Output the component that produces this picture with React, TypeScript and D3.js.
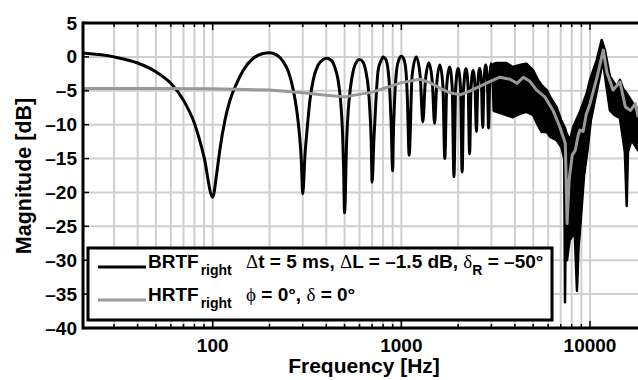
import React from 'react';
import * as d3 from 'd3';

// ---------- data ----------
const yTickValues = [5, 0, -5, -10, -15, -20, -25, -30, -35, -40];
const xTickValues = [100, 1000, 10000];
const xTickLabels = ['100', '1000', '10000'];

// BRTF (comb-filtered) – resolved lobes, frequency in Hz and magnitude in dB
const brtfFreq = [
  20, 30, 40, 50, 60, 70, 80, 90, 100, 105, 109, 116, 123.5, 134, 145, 164, 185, 200, 218, 236.5, 252, 267.5, 279, 288, 295, 300,
  308.7, 317.5, 327.6, 341, 362, 385, 400, 425, 443.5, 462, 476, 488, 494, 500,
  513, 523, 538, 560, 583, 600, 624, 649, 667, 681, 692, 700,
  715, 735, 753, 785, 800, 828, 851, 868, 882, 900,
  906, 921, 940, 968, 1000, 1033, 1060, 1077, 1100,
  1140, 1200, 1260, 1300, 1340, 1400, 1460, 1500, 1540, 1600, 1660, 1700, 1740, 1800, 1860, 1900,
  1940, 2000, 2060, 2100, 2140, 2200, 2260, 2300, 2340, 2400, 2460, 2500, 2540, 2600, 2660, 2700,
  2740, 2800, 2860, 2900, 2940, 3000, 3060, 3100,
];
const brtfDb = [
  0.6, 0.0, -0.9, -2.2, -3.9, -6.4, -9.8, -14.8, -20.7, -17.2, -13.8, -9.4, -6.4, -3.9, -2.0, -0.2, 0.5, 0.6, 0.3, -0.7, -2.2, -4.9, -7.9, -11.3, -15.3, -20.2,
  -14.3, -10.3, -6.4, -3.4, -1.2, -0.4, -0.2, -0.5, -1.5, -3.4, -6.4, -11.3, -16.3, -23.0,
  -12.3, -7.9, -4.4, -1.7, -0.6, -0.4, -0.7, -2.2, -4.4, -7.9, -12.3, -18.5,
  -12.3, -5.9, -2.0, -0.4, 0.0, -0.4, -2.0, -4.9, -9.4, -16.8,
  -12.3, -6.4, -2.4, -0.5, 0.1, -0.4, -2.4, -6.4, -14.5,
  -2.8, 0.0, -3.0, -9.6, -3.6, -0.9, -3.8, -9.8, -4.0, -1.2, -4.2, -15.0, -4.3, -1.5, -4.5, -17.7,
  -4.6, -1.7, -4.6, -17.0, -4.6, -1.7, -4.6, -14.3, -4.8, -2.0, -4.8, -11.0, -4.4, -1.7, -4.2, -10.4,
  -3.9, -1.2, -3.8, -10.5, -3.6, -1.0, -3.6, -8.0,
];

// BRTF – dense region drawn as a band: upper and lower envelopes
const bandUpperFreq = [3100, 3200, 3600, 3900, 4250, 4600, 5000, 5300, 5550, 5900, 6150, 6650, 7050, 7400, 7520, 7830, 8150, 8850, 9600, 10000, 10850, 11530, 12000, 12750, 13850, 14400, 15000, 15650, 16950, 18000];
const bandUpperDb = [-1.0, -0.9, -0.9, -1.5, -1.2, -1.0, -2.0, -3.4, -4.2, -4.9, -5.9, -7.4, -9.4, -10.6, -11.3, -12.3, -10.3, -8.1, -5.4, -3.4, -0.5, 2.5, 1.0, -2.9, -4.4, -3.4, -4.7, -5.4, -6.9, -7.9];
const bandLowerFreq = [3100, 3200, 3600, 3900, 4250, 4600, 5000, 5300, 5550, 5900, 6150, 6650, 7050, 7300, 7370, 7450, 7550, 7800, 8300, 8530, 8700, 8850, 9300, 9700, 10100, 10750, 11300, 11700, 12200, 12750, 13500, 14400, 15300, 15650, 15900, 16600, 18000];
const bandLowerDb = [-8.0, -8.1, -8.6, -8.9, -8.4, -8.1, -8.6, -10.1, -11.1, -11.1, -11.8, -12.3, -13.3, -15.0, -36.2, -22.0, -30.0, -27.0, -26.0, -34.5, -28.0, -25.6, -17.5, -13.8, -9.4, -5.7, -2.7, -0.5, -4.2, -7.9, -8.6, -9.0, -14.0, -22.0, -14.0, -12.3, -13.8];

// HRTF
const hrtfFreq = [20, 50, 100, 200, 300, 400, 500, 700, 800, 1000, 1256, 1420, 1600, 1810, 2050, 2320, 2620, 2960, 3330, 3770, 4100, 4430, 4800, 5210, 5760, 6370, 6950, 7400, 7560, 7760, 8050, 8350, 8670, 8850, 9200, 9550, 10000, 10900, 11750, 12300, 13250, 14420, 15400, 16400, 17400, 18000];
const hrtfDb = [-4.65, -4.65, -4.7, -4.9, -5.3, -5.65, -5.9, -5.2, -4.7, -3.8, -3.3, -3.8, -4.6, -5.3, -5.6, -5.0, -4.3, -3.6, -3.0, -3.3, -3.9, -3.0, -3.6, -4.9, -5.9, -7.9, -10.5, -12.8, -24.6, -18.0, -14.5, -13.8, -11.5, -10.8, -11.0, -8.5, -6.9, -3.0, 1.0, -2.3, -4.9, -3.7, -7.4, -7.9, -6.9, -8.9];

// ---------- layout ----------
const W = 638, H = 380;
const L = 83, R = 638, T = 23, B = 328;
const FONT = "'Liberation Sans', Arial, Helvetica, sans-serif";
const SERIF = "'Liberation Serif', 'Times New Roman', serif";

export default function App() {
  const x = d3.scaleLog().domain([100, 10000]).range([212.7, 590]);
  const y = d3.scaleLinear().domain([-40, 5]).range([B, T]);
  const gridFreqs = d3.scaleLog().domain([20, 18000]).ticks().filter((f) => x(f) > L + 2 && x(f) < R);

  const line = d3.line<[number, number]>().x((d) => x(d[0])).y((d) => y(d[1])).curve(d3.curveMonotoneX);
  const lineLin = d3.line<[number, number]>().x((d) => x(d[0])).y((d) => y(d[1]));

  const brtf: [number, number][] = brtfFreq.map((f, i) => [f, brtfDb[i]]);
  const hrtf: [number, number][] = hrtfFreq.map((f, i) => [f, hrtfDb[i]]);
  const band: [number, number][] = [
    ...bandUpperFreq.map((f, i) => [f, bandUpperDb[i]] as [number, number]),
    ...bandLowerFreq.map((f, i) => [f, bandLowerDb[i]] as [number, number]).reverse(),
  ];

  const gridColor = '#cfcfcf';
  const grayLine = '#999999';

  return (
    <svg width={W} height={H} style={{ position: 'absolute', left: 0, top: 0, background: '#fff' }} fontFamily={FONT}>
      <defs>
        <clipPath id="plot">
          <rect x={L} y={T} width={R - L} height={B - T} />
        </clipPath>
      </defs>
      <rect x={0} y={0} width={W} height={H} fill="#fff" />
      {/* grid */}
      <g stroke={gridColor} strokeWidth={2}>
        {gridFreqs.map((f) => (
          <line key={'gx' + f} x1={x(f)} x2={x(f)} y1={T} y2={B} />
        ))}
        {yTickValues.filter((v) => v !== 5 && v !== -40).map((v) => (
          <line key={'gy' + v} x1={L} x2={R} y1={y(v)} y2={y(v)} />
        ))}
      </g>
      {/* data */}
      <g clipPath="url(#plot)">
        <path d={line(brtf) || ''} fill="none" stroke="#000" strokeWidth={3} strokeLinejoin="round" />
        <path d={(lineLin(band) || '') + 'Z'} fill="#000" stroke="#000" strokeWidth={2.5} strokeLinejoin="round" />
        <path d={lineLin(hrtf) || ''} fill="none" stroke={grayLine} strokeWidth={3} strokeLinejoin="round" />
      </g>
      {/* ticks */}
      <g stroke="#000" strokeWidth={1.5}>
        {gridFreqs.map((f) => {
          const major = xTickValues.includes(f);
          const len = major ? 7 : 4;
          return (
            <g key={'t' + f}>
              <line x1={x(f)} x2={x(f)} y1={B} y2={B - len} />
              <line x1={x(f)} x2={x(f)} y1={T} y2={T + len} />
            </g>
          );
        })}
        {yTickValues.map((v) => (
          <line key={'ty' + v} x1={L} x2={L + 6} y1={y(v)} y2={y(v)} />
        ))}
      </g>
      {/* axes box */}
      <g stroke="#000" strokeWidth={3} fill="none">
        <line x1={L} x2={R} y1={T} y2={T} />
        <line x1={L} x2={R} y1={B} y2={B} />
        <line x1={L} x2={L} y1={T - 1.5} y2={B + 1.5} />
      </g>
      {/* tick labels */}
      <g fontSize={19} fontWeight="bold" fill="#000">
        {yTickValues.map((v) => (
          <text key={'ly' + v} x={77} y={y(v)} textAnchor="end" dominantBaseline="central">
            {v < 0 ? '\u2013' + Math.abs(v) : String(v)}
          </text>
        ))}
        {xTickValues.map((f, i) => (
          <text key={'lx' + f} x={x(f)} y={352} textAnchor="middle">
            {xTickLabels[i]}
          </text>
        ))}
      </g>
      {/* axis titles */}
      <text x={364} y={373} textAnchor="middle" fontSize={21} fontWeight="bold">Frequency [Hz]</text>
      <text transform="translate(31,176) rotate(-90)" textAnchor="middle" fontSize={21.5} fontWeight="bold">Magnitude [dB]</text>
      {/* legend */}
      <g>
        <rect x={88} y={248} width={464} height={72} fill="#fff" stroke="#000" strokeWidth={3} />
        <line x1={98} x2={146} y1={267} y2={267} stroke="#000" strokeWidth={3} />
        <line x1={98} x2={146} y1={300} y2={300} stroke={grayLine} strokeWidth={3} />
        <g fontSize={19} fontWeight="bold">
          <text x={148} y={268}>BRTF<tspan fontSize={14} dy={7} dx={2}>right</tspan></text>
          <text x={246} y={268}>
            <tspan fontFamily={SERIF} fontWeight="normal">{'\u0394'}</tspan>
            <tspan>{'t = 5 ms, '}</tspan>
            <tspan fontFamily={SERIF} fontWeight="normal">{'\u0394'}</tspan>
            <tspan>{'L = \u20131.5 dB, '}</tspan>
            <tspan fontFamily={SERIF} fontWeight="normal">{'\u03b4'}</tspan>
            <tspan fontSize={14} dy={7}>R</tspan>
            <tspan dy={-7}>{' = \u201350\u00b0'}</tspan>
          </text>
          <text x={148} y={301}>HRTF<tspan fontSize={14} dy={7} dx={2}>right</tspan></text>
          <text x={246} y={301}>
            <tspan fontFamily={SERIF} fontWeight="normal">{'\u03d5'}</tspan>
            <tspan>{' = 0\u00b0, '}</tspan>
            <tspan fontFamily={SERIF} fontWeight="normal">{'\u03b4'}</tspan>
            <tspan>{' = 0\u00b0'}</tspan>
          </text>
        </g>
      </g>
    </svg>
  );
}
